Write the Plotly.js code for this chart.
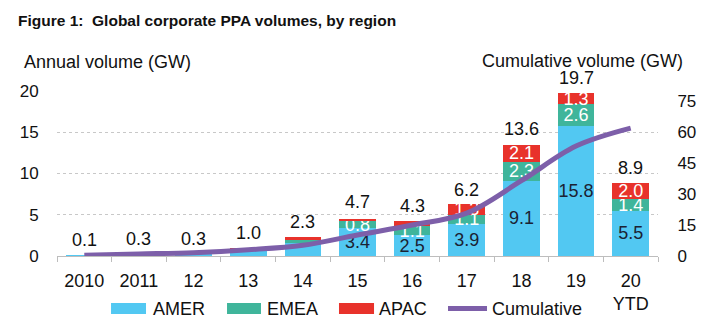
<!DOCTYPE html>
<html>
<head>
<meta charset="utf-8">
<script src="https://cdn.plot.ly/plotly-3.0.1.min.js"></script>
<style>html,body{margin:0;padding:0;background:#fff;}#chart{width:720px;height:328px;}</style>
</head>
<body>
<div id="chart"></div>
<script>
// ---- data ----
var categories = ["2010","2011","12","13","14","15","16","17","18","19","20<br>YTD"];
var amer = [0.1, 0.2, 0.2, 0.7, 1.6, 3.4, 2.5, 3.9, 9.1, 15.8, 5.5];
var emea = [0.0, 0.1, 0.05, 0.1, 0.4, 0.8, 1.1, 1.1, 2.3, 2.6, 1.4];
var apac = [0.0, 0.0, 0.05, 0.2, 0.3, 0.3, 0.7, 1.3, 2.1, 1.3, 2.0];
var amerLabels = ["","","","","","3.4","2.5","3.9","9.1","15.8","5.5"];
var emeaLabels = ["","","","","","0.8","1.1","1.1","2.3","2.6","1.4"];
var apacLabels = ["","","","","","","","1.3","2.1","1.3","2.0"];
var totals = [0.1, 0.3, 0.3, 1.0, 2.3, 4.7, 4.3, 6.2, 13.6, 19.7, 8.9];
var totalLabels = ["0.1","0.3","0.3","1.0","2.3","4.7","4.3","6.2","13.6","19.7","8.9"];
var cumulative = [0.4, 1.0, 1.6, 3.0, 5.2, 10.2, 15.0, 20.8, 36.5, 53.3, 62.0];
var seriesNames = ["AMER","EMEA","APAC","Cumulative"];
var leftTicks = [0, 5, 10, 15, 20];
var rightTicks = [0, 15, 30, 45, 60, 75];

// ---- style ----
var FONT = "Liberation Sans, Arial, Helvetica, sans-serif";
var C_AMER = "#52c8f2", C_EMEA = "#3fb59b", C_APAC = "#e8322b", C_CUM = "#7d5fa9";
var DARK = "#1b2233";

function barTrace(name, vals, labels, color, txtColor) {
  return {
    type: "bar", name: name, x: categories, y: vals, yaxis: "y",
    marker: {color: color, line: {width: 0}},
    text: labels, textposition: "inside", insidetextanchor: "middle",
    constraintext: "none", textangle: 0,
    insidetextfont: {family: FONT, size: 18, color: txtColor},
    hoverinfo: "skip", showlegend: false
  };
}

var traces = [
  barTrace(seriesNames[0], amer, amerLabels, C_AMER, DARK),
  barTrace(seriesNames[1], emea, emeaLabels, C_EMEA, "#ffffff"),
  barTrace(seriesNames[2], apac, apacLabels, C_APAC, "#ffffff"),
  {
    type: "scatter", mode: "lines", name: seriesNames[3], x: categories, y: cumulative,
    yaxis: "y2", line: {color: C_CUM, width: 5, shape: "spline", smoothing: 1},
    hoverinfo: "skip", showlegend: false
  }
];

var annotations = [];
for (var i = 0; i < categories.length; i++) {
  annotations.push({
    x: i, y: totals[i], xref: "x", yref: "y", text: totalLabels[i],
    showarrow: false, yanchor: "middle", yshift: 15,
    font: {family: FONT, size: 18, color: "#111111"}
  });
}
// axis titles
annotations.push({xref: "paper", yref: "paper", x: -0.058, y: 1.176, xanchor: "left", yanchor: "middle",
  text: "Annual volume (GW)", showarrow: false, font: {family: FONT, size: 18, color: "#111111"}});
annotations.push({xref: "paper", yref: "paper", x: 1.045, y: 1.182, xanchor: "right", yanchor: "middle",
  text: "Cumulative volume (GW)", showarrow: false, font: {family: FONT, size: 18, color: "#111111"}});

// custom legend
var shapes = [];
var legendItems = [
  {name: seriesNames[0], color: C_AMER, x0: 0.0899, x1: 0.1481, tx: 0.1564, kind: "rect"},
  {name: seriesNames[1], color: C_EMEA, x0: 0.2829, x1: 0.3394, tx: 0.3461, kind: "rect"},
  {name: seriesNames[2], color: C_APAC, x0: 0.4692, x1: 0.5275, tx: 0.5324, kind: "rect"},
  {name: seriesNames[3], color: C_CUM, x0: 0.6506, x1: 0.7155, tx: 0.7205, kind: "line"}
];
legendItems.forEach(function (it) {
  if (it.kind === "rect") {
    shapes.push({type: "rect", xref: "paper", yref: "paper", x0: it.x0, x1: it.x1, y0: -0.3515, y1: -0.2848,
      fillcolor: it.color, line: {width: 0}});
  } else {
    shapes.push({type: "line", xref: "paper", yref: "paper", x0: it.x0, x1: it.x1, y0: -0.3182, y1: -0.3182,
      line: {color: it.color, width: 5}});
  }
  annotations.push({xref: "paper", yref: "paper", x: it.tx, y: -0.3182, xanchor: "left", yanchor: "middle",
    text: it.name, showarrow: false, font: {family: FONT, size: 18, color: "#111111"}});
});

var layout = {
  width: 720, height: 328,
  margin: {l: 57, r: 62, t: 91, b: 72, pad: 0},
  paper_bgcolor: "#ffffff", plot_bgcolor: "#ffffff",
  font: {family: FONT, size: 17, color: "#111111"},
  title: {text: "<b>Figure 1:  Global corporate PPA volumes, by region</b>", xref: "container", yref: "container",
    x: 0.025, xanchor: "left", y: 0.936, yanchor: "middle", font: {family: FONT, size: 15.5, color: "#111111"}},
  barmode: "stack", bargap: 0.33,
  xaxis: {
    type: "category", categoryorder: "array", categoryarray: categories,
    range: [-0.5, categories.length - 0.5], autorange: false,
    showgrid: false, zeroline: false,
    showline: true, linecolor: "#bdbdbd", linewidth: 1,
    ticks: "outside", tickson: "boundaries", ticklen: 5, tickcolor: "#bdbdbd",
    tickfont: {family: FONT, size: 18, color: "#111111"}, ticklabelstandoff: 8,
    fixedrange: true
  },
  yaxis: {
    range: [0, 20], autorange: false, tickvals: leftTicks, ticktext: leftTicks.map(String),
    showgrid: true, gridcolor: "#c8c8c8", griddash: "dot", gridwidth: 1,
    zeroline: false, showline: false,
    ticks: "outside", ticklen: 14, tickcolor: "rgba(0,0,0,0)",
    tickfont: {family: FONT, size: 17, color: "#111111"}, fixedrange: true
  },
  yaxis2: {
    range: [0, 80], autorange: false, overlaying: "y", side: "right", tickvals: rightTicks, ticktext: rightTicks.map(String),
    showgrid: false, zeroline: false, showline: false,
    ticks: "outside", ticklen: 15, tickcolor: "rgba(0,0,0,0)",
    tickfont: {family: FONT, size: 17, color: "#111111"}, fixedrange: true
  },
  showlegend: false,
  annotations: annotations,
  shapes: shapes
};

Plotly.newPlot("chart", traces, layout, {staticPlot: true, displayModeBar: false});
</script>
</body>
</html>
